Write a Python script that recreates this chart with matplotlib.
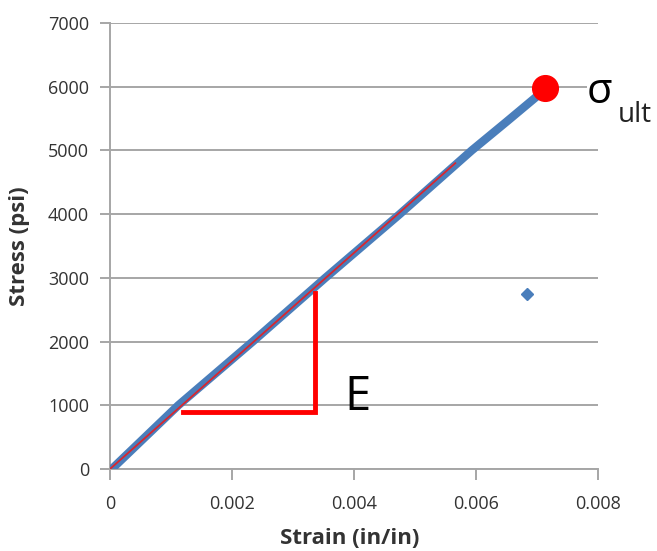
import matplotlib
matplotlib.use("Agg")
import matplotlib.pyplot as plt

# ---- data ----
strain = [0.00003, 0.00112, 0.00234, 0.00353, 0.00475, 0.00593, 0.00650, 0.00700]
stress = [0, 1000, 2000, 3000, 4000, 5000, 5450, 5850]

fit_strain = [0.0, 0.00566]
fit_stress = [0, 4800]

tri_strain = [0.00120, 0.00336, 0.00336]
tri_stress = [900, 900, 2760]

ult_strain = [0.00713]
ult_stress = [5980]

outlier_strain = [0.00683]
outlier_stress = [2742]

xticks = [0, 0.002, 0.004, 0.006, 0.008]
xticklabels = ["0", "0.002", "0.004", "0.006", "0.008"]
yticks = [0, 1000, 2000, 3000, 4000, 5000, 6000, 7000]
yticklabels = [str(v) for v in yticks]

W, H = 657, 551
fig = plt.figure(figsize=(W / 100, H / 100), dpi=100)
ax = fig.add_axes([110 / W, 1 - 469 / H, (598 - 110) / W, (469 - 23) / H])

grid_c = "#a6a6a6"
blue = "#4a7ebb"

ax.set_xlim(0, 0.008)
ax.set_ylim(0, 7000)
ax.set_yticks(yticks)
ax.set_yticklabels(yticklabels)
ax.set_xticks(xticks)
ax.set_xticklabels(xticklabels)
ax.yaxis.grid(True, color=grid_c, linewidth=1.4)
ax.set_axisbelow(True)
for s in ["top", "right"]:
    ax.spines[s].set_visible(False)
for s in ["left", "bottom"]:
    ax.spines[s].set_color(grid_c)
    ax.spines[s].set_linewidth(1.4)
ax.tick_params(axis="both", colors=grid_c, width=1.4, labelcolor="#333333",
               labelsize=13)
ax.tick_params(axis="y", length=7, pad=8)
ax.tick_params(axis="x", length=8, pad=11)
for lab in ax.get_xticklabels() + ax.get_yticklabels():
    lab.set_family("Open Sans")

# blue data
ax.plot(strain, stress, color=blue, linewidth=6, solid_capstyle="round",
        solid_joinstyle="round", zorder=3)
ax.plot(outlier_strain, outlier_stress, linestyle="none", marker="D",
        markersize=6, color=blue, zorder=3)
# fit line
ax.plot(fit_strain, fit_stress, color="#d9262e", linewidth=1.3, zorder=4)
# triangle
ax.plot(tri_strain, tri_stress, color="#ff0000", linewidth=3.5,
        solid_joinstyle="miter", zorder=4)
# ultimate point
ax.plot(ult_strain, ult_stress, linestyle="none", marker="o", markersize=18.5,
        color="#ff0000", zorder=5, clip_on=False)

# annotations
fig.text(344 / W, 1 - 410 / H, "E", fontsize=34, family="Open Sans",
         ha="left", va="baseline", color="black")
fig.text(587 / W, 1 - 103 / H, "σ", fontsize=30, family=["Open Sans", "DejaVu Sans"],
         ha="left", va="baseline", color="black",
         bbox=dict(facecolor="white", edgecolor="none", pad=0))
fig.text(618 / W, 1 - 122 / H, "ult", fontsize=20, family="Open Sans",
         ha="left", va="baseline", color="#222222")

fig.text(350 / W, 1 - 538 / H, "Strain (in/in)", fontsize=16, family="Open Sans",
         fontweight="bold", ha="center", va="center", color="#333333")
fig.text(20 / W, 1 - 246 / H, "Stress (psi)", fontsize=16, family="Open Sans",
         fontweight="bold", ha="center", va="center", rotation=90, color="#333333")

fig.savefig("out.png", dpi=100)
